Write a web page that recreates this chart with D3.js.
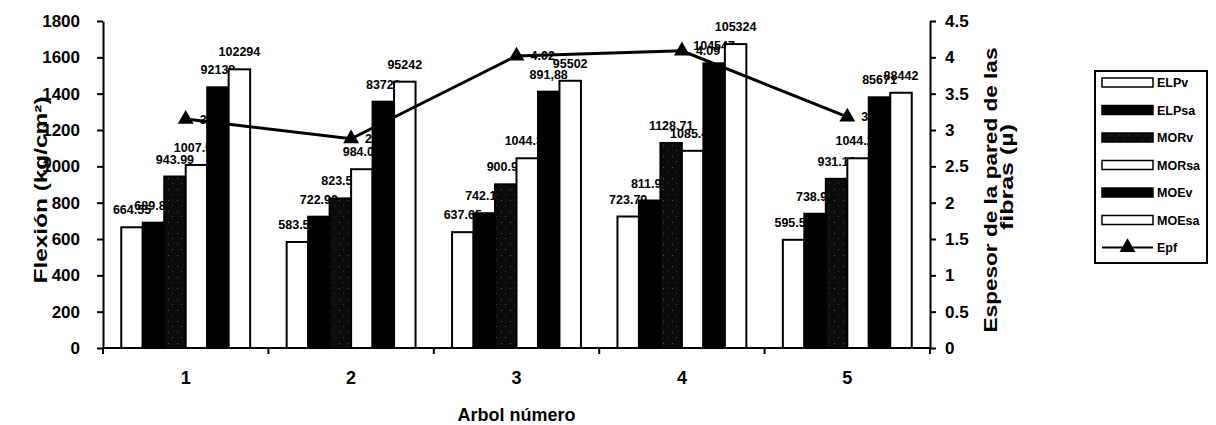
<!DOCTYPE html>
<html>
<head>
<meta charset="utf-8">
<script src="https://cdn.jsdelivr.net/npm/d3@7"></script>
<style>
  body { margin: 0; background: #fff; }
  text { font-family: "Liberation Sans", Arial, sans-serif; font-weight: bold; fill: #000; }
  .axis path, .axis line { stroke: #000; stroke-width: 2; }
</style>
</head>
<body>
<div id="chart"></div>
<script>
// Data
var categories = ["1", "2", "3", "4", "5"];
var seriesNames = ["ELPv", "ELPsa", "MORv", "MORsa", "MOEv", "MOEsa"];
var elpv = [664.55, 583.54, 637.65, 723.79, 595.56];
var elpsa = [689.84, 722.92, 742.16, 811.92, 738.95];
var morv = [943.99, 823.59, 900.95, 1128.71, 931.18];
var morsa = [1007.52, 984.06, 1044.36, 1085.42, 1044.28];
// MOE bars sit at these heights on the left axis
var moev = [1435, 1356, 1411, 1567, 1380];
var moesa = [1534, 1466, 1471, 1673, 1405];
var moevLabels = ["92138", "83729", "891,88", "104547", "85671"];
var moesaLabels = ["102294", "95242", "95502", "105324", "88442"];
var epf = [3.15, 2.88, 4.02, 4.09, 3.18];
var epfLabels = ["3.15", "2.88", "4.02", "4.09", "3.18"];
var leftTicks = [0, 200, 400, 600, 800, 1000, 1200, 1400, 1600, 1800];
var rightTicks = [0, 0.5, 1, 1.5, 2, 2.5, 3, 3.5, 4, 4.5];

var svgWidth = 1216;
var svgHeight = 425;
var chartMargin = { top: 21, left: 103 };
var chartWidth = 827;
var chartHeight = 327;

var svg = d3.select("#chart")
  .append("svg")
  .attr("width", svgWidth)
  .attr("height", svgHeight);

// speckled fill for MORv
var defs = svg.append("defs");
var pat = defs.append("pattern")
  .attr("id", "speckle")
  .attr("patternUnits", "userSpaceOnUse")
  .attr("width", 9)
  .attr("height", 11);
pat.append("rect").attr("width", 9).attr("height", 11).attr("fill", "#0c0c0c");
pat.append("rect").attr("x", 2).attr("y", 3).attr("width", 1).attr("height", 1).attr("fill", "#555");
pat.append("rect").attr("x", 6).attr("y", 8).attr("width", 1).attr("height", 1).attr("fill", "#3a3a3a");

var chartGroup = svg.append("g")
  .attr("transform", `translate(${chartMargin.left}, ${chartMargin.top})`);

var x0 = d3.scaleBand().domain(categories).range([0, chartWidth]);
var x1 = d3.scaleBand().domain(seriesNames).range([0, x0.bandwidth()])
  .paddingInner(0).paddingOuter(0.85);
var yLeft = d3.scaleLinear().domain([0, 1800]).range([chartHeight, 0]);
var yRight = d3.scaleLinear().domain([0, 4.5]).range([chartHeight, 0]);

// axes
var leftAxis = d3.axisLeft(yLeft).tickValues(leftTicks).tickSize(6).tickSizeOuter(0).tickPadding(17)
  .tickFormat(d => String(d));
var rightAxis = d3.axisRight(yRight).tickValues(rightTicks).tickSize(6).tickSizeOuter(0).tickPadding(9)
  .tickFormat(d => String(d));

var gl = chartGroup.append("g").attr("class", "axis").call(leftAxis);
gl.selectAll("text").attr("font-size", "17px");
var gr = chartGroup.append("g").attr("class", "axis")
  .attr("transform", `translate(${chartWidth}, 0)`).call(rightAxis);
gr.selectAll("text").attr("font-size", "17px");

// x axis line and boundary ticks
chartGroup.append("line")
  .attr("x1", 0).attr("x2", chartWidth)
  .attr("y1", chartHeight).attr("y2", chartHeight)
  .attr("stroke", "#000").attr("stroke-width", 2);
var bounds = categories.map(c => x0(c)).concat([x0.range()[1]]);
chartGroup.selectAll(".xtick")
  .data(bounds)
  .enter()
  .append("line")
  .attr("x1", d => d).attr("x2", d => d)
  .attr("y1", chartHeight).attr("y2", chartHeight + 6)
  .attr("stroke", "#000").attr("stroke-width", 2);

chartGroup.selectAll(".xlabel")
  .data(categories)
  .enter()
  .append("text")
  .attr("x", d => x0(d) + x0.bandwidth() / 2)
  .attr("y", chartHeight + 36)
  .attr("text-anchor", "middle")
  .attr("font-size", "18px")
  .text(d => d);

// axis titles
svg.append("text")
  .attr("transform", "translate(47, 190) rotate(-90)")
  .attr("text-anchor", "middle")
  .attr("font-size", "18px")
  .attr("textLength", 187)
  .attr("lengthAdjust", "spacingAndGlyphs")
  .text("Flexión (kg/cm²)");

svg.append("text")
  .attr("transform", "translate(997, 190) rotate(-90)")
  .attr("text-anchor", "middle")
  .attr("font-size", "18px")
  .attr("textLength", 285)
  .attr("lengthAdjust", "spacingAndGlyphs")
  .text("Espesor de la pared de las");
svg.append("text")
  .attr("transform", "translate(1013, 177) rotate(-90)")
  .attr("text-anchor", "middle")
  .attr("font-size", "18px")
  .attr("textLength", 106)
  .attr("lengthAdjust", "spacingAndGlyphs")
  .text("fibras (µ)");

svg.append("text")
  .attr("x", chartMargin.left + chartWidth / 2)
  .attr("y", 421)
  .attr("text-anchor", "middle")
  .attr("font-size", "18px")
  .text("Arbol número");

// bar series
var fills = { ELPv: "#fff", ELPsa: "#000", MORv: "url(#speckle)", MORsa: "#fff", MOEv: "#000", MOEsa: "#fff" };
var seriesValues = { ELPv: elpv, ELPsa: elpsa, MORv: morv, MORsa: morsa, MOEv: moev, MOEsa: moesa };
var seriesLabels = {
  ELPv: elpv.map(String), ELPsa: elpsa.map(String), MORv: morv.map(String),
  MORsa: morsa.map(String), MOEv: moevLabels, MOEsa: moesaLabels
};

function drawSeries(name) {
  var vals = seriesValues[name];
  chartGroup.selectAll(null)
    .data(vals)
    .enter()
    .append("rect")
    .attr("x", (d, i) => x0(categories[i]) + x1(name))
    .attr("y", d => yLeft(d))
    .attr("width", x1.bandwidth())
    .attr("height", d => chartHeight - yLeft(d))
    .attr("fill", fills[name])
    .attr("stroke", "#000")
    .attr("stroke-width", 2);

  chartGroup.selectAll(null)
    .data(vals)
    .enter()
    .append("text")
    .attr("x", (d, i) => x0(categories[i]) + x1(name) + x1.bandwidth() / 2)
    .attr("y", d => yLeft(d) - 13)
    .attr("text-anchor", "middle")
    .attr("font-size", "12.5px")
    .text((d, i) => seriesLabels[name][i]);
}

["ELPv", "ELPsa", "MORv", "MORsa"].forEach(drawSeries);

// Epf labels sit behind the MOE bars
chartGroup.selectAll(null)
  .data(epf)
  .enter()
  .append("text")
  .attr("x", (d, i) => x0(categories[i]) + x0.bandwidth() / 2 + 14)
  .attr("y", d => yRight(d) + 4.5)
  .attr("font-size", "12.5px")
  .text((d, i) => epfLabels[i]);

["MOEv", "MOEsa"].forEach(drawSeries);

// Epf line
var line = d3.line()
  .x((d, i) => x0(categories[i]) + x0.bandwidth() / 2)
  .y(d => yRight(d));

chartGroup.append("path")
  .datum(epf)
  .attr("d", line)
  .attr("fill", "none")
  .attr("stroke", "#000")
  .attr("stroke-width", 3);

var tri = d3.symbol().type(d3.symbolTriangle).size(110);
chartGroup.selectAll(null)
  .data(epf)
  .enter()
  .append("path")
  .attr("d", tri)
  .attr("transform", (d, i) => `translate(${x0(categories[i]) + x0.bandwidth() / 2}, ${yRight(d)})`)
  .attr("fill", "#000");

// legend
var legend = svg.append("g").attr("transform", "translate(1095, 71)");
legend.append("rect")
  .attr("width", 112).attr("height", 192)
  .attr("fill", "#fff").attr("stroke", "#000").attr("stroke-width", 2);

var legendItems = seriesNames.concat(["Epf"]);
var rows = legend.selectAll(".row")
  .data(legendItems)
  .enter()
  .append("g")
  .attr("transform", (d, i) => `translate(0, ${11.5 + i * 27.5})`);

rows.filter(d => d !== "Epf")
  .append("rect")
  .attr("x", 7).attr("y", -4.5)
  .attr("width", 51).attr("height", 9)
  .attr("fill", d => fills[d])
  .attr("stroke", "#000").attr("stroke-width", 1.5);

var epfRow = rows.filter(d => d === "Epf");
epfRow.append("line")
  .attr("x1", 7).attr("x2", 58).attr("y1", 0).attr("y2", 0)
  .attr("stroke", "#000").attr("stroke-width", 2);
epfRow.append("path")
  .attr("d", tri)
  .attr("transform", "translate(32.5, 0)")
  .attr("fill", "#000");

rows.append("text")
  .attr("x", 62).attr("y", 4.5)
  .attr("font-size", "12.5px")
  .text(d => d);
</script>
</body>
</html>
